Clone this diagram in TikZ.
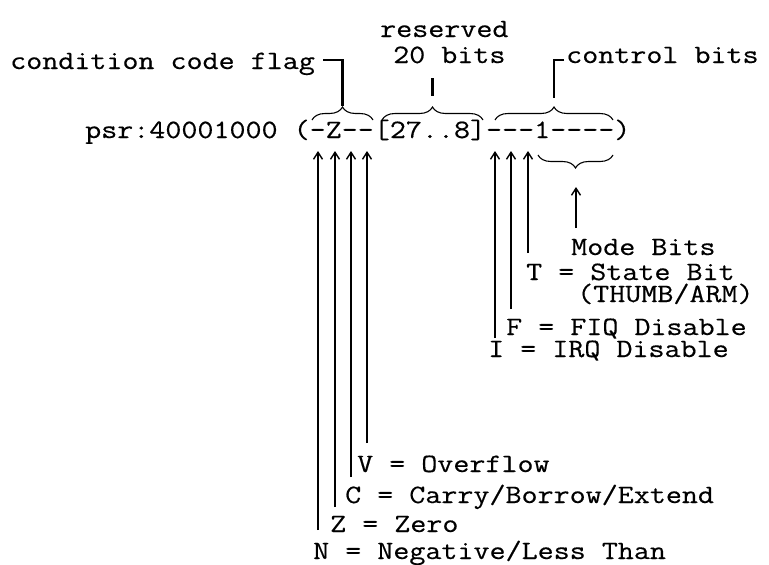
\documentclass[tikz,border=0pt]{standalone}
\usepackage{fontspec}
\setmonofont[FakeStretch=1.175,FakeBold=0.4]{Latin Modern Mono}
\usetikzlibrary{decorations.pathreplacing,arrows.meta}
\begin{document}
\begin{tikzpicture}[x=1pt,y=-1pt,
  lbl/.style={anchor=base west,inner sep=0pt,font=\ttfamily\fontsize{26.5}{27}\selectfont},
  bracestyle/.style={line width=1.1pt,decorate,decoration={brace,amplitude=13pt}},
  leader/.style={line width=2.8pt},
  flag/.style={line width=2.4pt,-{Straight Barb[length=7pt,width=9pt,line width=1.4pt]}}]
\useasboundingbox (0,0) rectangle (769,565);

% register line
\node[lbl] (psr) at (85,138) {psr:40001000 (-Z--[27..8]---1----)};

% group captions
\node[lbl] (cond) at (10,69) {condition code flag};
\node[lbl] (res1) at (380,37) {reserved};
\node[lbl] (res2) at (393,63) {20 bits};
\node[lbl] (ctrl) at (566,63) {control bits};

% upper braces and their leaders
\coordinate (c1) at (312,120); \coordinate (c2) at (373,120);
\coordinate (r1) at (382,120); \coordinate (r2) at (483,120);
\coordinate (k1) at (495,120); \coordinate (k2) at (613,120);
\draw[bracestyle] (c1) -- (c2);
\draw[bracestyle] (r1) -- (r2);
\draw[bracestyle] (k1) -- (k2);

\coordinate (cTip) at (342.5,106); \coordinate (cBend) at (342.5,60); \coordinate (cEnd) at (323,60);
\draw[leader] (cEnd) -- (cBend) -- (cTip);
\coordinate (rTip) at (432.5,96); \coordinate (rTop) at (432.5,78);
\draw[leader] (rTop) -- (rTip);
\coordinate (kTip) at (554,98); \coordinate (kBend) at (554,60); \coordinate (kEnd) at (564,60);
\draw[leader] (kEnd) -- (kBend) -- (kTip);

% mode bits brace
\coordinate (m1) at (613,155); \coordinate (m2) at (538,155);
\draw[bracestyle] (m1) -- (m2);

% control bit labels
\node[lbl] (mode) at (571,255) {Mode Bits};
\node[lbl] (tbit) at (526,280) {T = State Bit};
\node[lbl] (tsub) at (577,302) {(THUMB/ARM)};
\node[lbl] (fbit) at (506,335) {F = FIQ Disable};
\node[lbl] (ibit) at (488,357) {I = IRQ Disable};

\coordinate (modeTop) at (576,187); \coordinate (modeBot) at (576,228);
\coordinate (tTop) at (528,151); \coordinate (tBot) at (528,253);
\coordinate (fTop) at (511,151); \coordinate (fBot) at (511,309);
\coordinate (iTop) at (495,151); \coordinate (iBot) at (495,338);
\draw[flag] (modeBot) -- (modeTop);
\draw[flag] (tBot) -- (tTop);
\draw[flag] (fBot) -- (fTop);
\draw[flag] (iBot) -- (iTop);

% condition flag labels
\node[lbl] (vflag) at (357,472) {V = Overflow};
\node[lbl] (cflag) at (345,503) {C = Carry/Borrow/Extend};
\node[lbl] (zflag) at (330,532) {Z = Zero};
\node[lbl] (nflag) at (313,559) {N = Negative/Less Than};

\coordinate (vTop) at (367,151); \coordinate (vBot) at (367,443);
\coordinate (cfTop) at (351,151); \coordinate (cfBot) at (351,477);
\coordinate (zTop) at (335,151); \coordinate (zBot) at (335,507);
\coordinate (nTop) at (318,151); \coordinate (nBot) at (318,530);
\draw[flag] (vBot) -- (vTop);
\draw[flag] (cfBot) -- (cfTop);
\draw[flag] (zBot) -- (zTop);
\draw[flag] (nBot) -- (nTop);
\end{tikzpicture}
\end{document}
